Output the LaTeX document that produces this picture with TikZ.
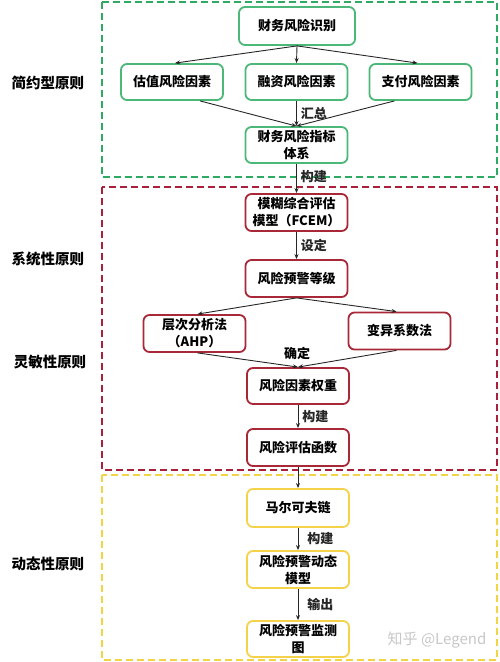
\documentclass[tikz,border=0pt]{standalone}
\usepackage{fontspec}
\setmainfont{Noto Sans CJK SC}
\usetikzlibrary{arrows.meta}
\definecolor{gboxc}{HTML}{2EAA62}
\definecolor{gnodec}{HTML}{4CB878}
\definecolor{rboxc}{HTML}{A8203A}
\definecolor{rnodec}{HTML}{A82838}
\definecolor{yboxc}{HTML}{F2D447}
\definecolor{ynodec}{HTML}{F4D34A}
\tikzset{
  basebox/.style={rounded corners=6pt, line width=1.8pt, minimum width=102pt, minimum height=37pt,
    align=center, inner sep=2pt, font=\fontsize{13}{17}\selectfont\bfseries, fill=white},
  gnode/.style={basebox, draw=gnodec},
  rnode/.style={basebox, draw=rnodec},
  ynode/.style={basebox, draw=ynodec},
  region/.style={dashed, dash pattern=on 7pt off 4pt, line width=1.8pt},
  flow/.style={-{Stealth[length=5pt,width=4pt]}, line width=0.9pt, black!85},
  elabel/.style={font=\fontsize{13}{15}\selectfont\bfseries, inner sep=1pt},
  side/.style={font=\fontsize{14.5}{16}\selectfont\bfseries}
}
\begin{document}
\begin{tikzpicture}[x=1pt,y=-1pt]
\useasboundingbox (0,0) rectangle (500,662);
% regions
\draw[region, draw=gboxc] (102,2) rectangle (497,177);
\draw[region, draw=rboxc] (102,187) rectangle (497,470);
\draw[region, draw=yboxc] (102,475) rectangle (497,660);
% side labels
\node[side] (s1) at (48,83) {简约型原则};
\node[side] (s2) at (48,259) {系统性原则};
\node[side] (s3) at (50,362) {灵敏性原则};
\node[side] (s4) at (48,564) {动态性原则};
% nodes
\node[gnode, minimum width=116pt, minimum height=38pt] (ident) at (297,26) {财务风险识别};
\node[gnode, minimum height=36pt] (gz) at (172,82) {估值风险因素};
\node[gnode, minimum height=36pt] (rz) at (296.5,82) {融资风险因素};
\node[gnode, minimum height=36pt] (zf) at (420.5,82) {支付风险因素};
\node[gnode, minimum height=36pt] (zb) at (296.5,145) {财务风险指标\\体系};
\node[rnode] (fcem) at (296.5,212.5) {模糊综合评估\\模型（FCEM）};
\node[rnode] (dj) at (296.5,278.5) {风险预警等级};
\node[rnode] (ahp) at (194.5,333.5) {层次分析法\\（AHP）};
\node[rnode] (by) at (399.5,331) {变异系数法};
\node[rnode, minimum height=36pt] (qz) at (298,386) {风险因素权重};
\node[rnode] (hs) at (298,447.5) {风险评估函数};
\node[ynode, minimum height=38pt] (mk) at (298,508) {马尔可夫链};
\node[ynode] (dt) at (298,569.5) {风险预警动态\\模型};
\node[ynode, minimum height=36pt] (jc) at (298,639) {风险预警监测\\图};
% arrows
\draw[flow] (ident.south) -- ([xshift=3pt]gz.north);
\draw[flow] (ident.south) -- (rz.north);
\draw[flow] (ident.south) -- ([xshift=-3pt]zf.north);
\draw[flow] ([xshift=28pt]gz.south) -- (zb.north);
\draw[flow] (rz.south) -- node[elabel, right=3pt] (l1) {汇总} (zb.north);
\draw[flow] ([xshift=-26pt]zf.south) -- (zb.north);
\draw[flow] (zb.south) -- node[elabel, right=3pt, pos=0.45] (l2) {构建} (fcem.north);
\draw[flow] (fcem.south) -- node[elabel, right=3pt] (l3) {设定} (dj.north);
\draw[flow] (dj.south) -- ([xshift=3pt]ahp.north);
\draw[flow] (dj.south) -- ([xshift=-3pt]by.north);
\draw[flow] ([xshift=3pt]ahp.south) -- (qz.north);
\draw[flow] ([xshift=-3pt]by.south) -- (qz.north);
\node[elabel] (l4) at (297,353) {确定};
\draw[flow] (qz.south) -- node[elabel, right=3pt] (l5) {构建} (hs.north);
\draw[flow] (hs.south) -- (mk.north);
\draw[flow] (mk.south) -- node[elabel, right=8pt] (l6) {构建} (dt.north);
\draw[flow] (dt.south) -- node[elabel, right=8pt] (l7) {输出} (jc.north);
% watermark
\node[font=\fontsize{15}{17}\selectfont, text=black!22] (wm) at (437,640) {知乎 @Legend};
\end{tikzpicture}
\end{document}
